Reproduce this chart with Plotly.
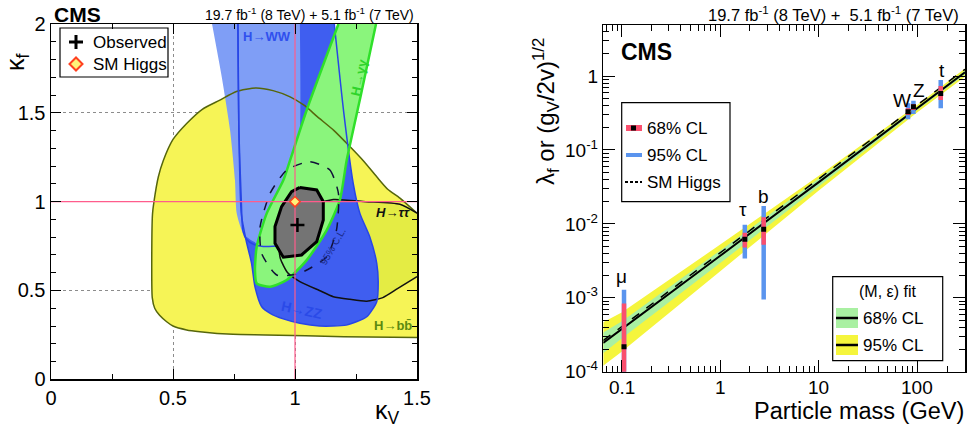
import math
import plotly.graph_objects as go

W, H = 969, 429
FONT = "Liberation Sans, Arial, sans-serif"

# ---------------- Left panel data (kappa_V, kappa_f) ----------------
bb_kv = [1.5, 1.2, 0.88, 0.746, 0.61, 0.556, 0.50, 0.474, 0.445, 0.425, 0.415, 0.413, 0.416, 0.422,
         0.44, 0.46, 0.50, 0.556, 0.62, 0.69, 0.76, 0.84, 0.91, 0.98, 1.04, 1.09, 1.16, 1.225,
         1.28, 1.335, 1.38, 1.43, 1.5]
bb_kf = [0.235, 0.24, 0.25, 0.253, 0.268, 0.278, 0.30, 0.324, 0.36, 0.40, 0.46, 0.70, 0.93, 1.0,
         1.14, 1.23, 1.35, 1.44, 1.52, 1.57, 1.62, 1.64, 1.625, 1.59, 1.54, 1.48, 1.40, 1.31,
         1.23, 1.14, 1.07, 1.02, 0.935]

tt_kv = [1.5, 1.43, 1.29, 1.157, 1.10, 1.02, 0.96, 0.935, 0.94, 0.97, 1.02, 1.10, 1.157, 1.225,
         1.294, 1.36, 1.42, 1.5]
tt_kf = [0.935, 0.985, 1.0, 1.012, 0.99, 0.90, 0.82, 0.75, 0.68, 0.60, 0.55, 0.50, 0.465, 0.45,
         0.44, 0.46, 0.51, 0.578]

zz_kv = [0.766, 0.77, 0.78, 0.80, 0.822, 0.836, 0.863, 0.90, 0.952, 1.02, 1.10, 1.21, 1.294,
         1.335, 1.341, 1.335, 1.307, 1.266, 1.239, 1.20, 1.161]
zz_kf = [2.0, 1.4, 0.93, 0.78, 0.653, 0.52, 0.41, 0.37, 0.34, 0.315, 0.30, 0.305, 0.352,
         0.437, 0.55, 0.653, 0.80, 0.934, 1.10, 1.5, 2.0]

ww_kv = [0.66, 0.70, 0.734, 0.754, 0.761, 0.788, 0.83, 0.884, 0.94, 0.97, 1.0, 1.02, 1.02]
ww_kf = [2.0, 1.7, 1.40, 1.12, 0.934, 0.82, 0.775, 0.746, 0.756, 0.85, 1.2, 1.4, 2.0]

ww_line_kv = [0.766, 0.77, 0.78, 0.786, 0.80, 0.83, 0.87, 0.95, 1.0]
ww_line_kf = [2.0, 1.4, 1.0, 0.84, 0.79, 0.76, 0.748, 0.756, 0.80]

gg_kv = [1.178, 1.048, 0.98, 0.952, 0.884, 0.843, 0.836, 0.843, 0.898, 0.966, 1.048, 1.13,
         1.184, 1.212, 1.27, 1.332]
gg_kf = [2.0, 1.516, 1.234, 1.12, 0.934, 0.746, 0.615, 0.54, 0.521, 0.559, 0.671, 0.84,
         1.01, 1.234, 1.6, 2.0]

obs68_kv = [1.02, 1.089, 1.116, 1.116, 1.089, 1.027, 0.952, 0.918, 0.918, 0.945, 0.986, 1.02]
obs68_kf = [1.08, 1.066, 1.0, 0.897, 0.775, 0.70, 0.687, 0.766, 0.86, 0.972, 1.056, 1.08]

obs95_kv = [1.06, 1.143, 1.178, 1.17, 1.13, 1.02, 0.925, 0.863, 0.857, 0.898, 0.966, 1.06]
obs95_kf = [1.225, 1.178, 1.047, 0.84, 0.69, 0.597, 0.587, 0.709, 0.859, 1.047, 1.178, 1.225]

best_fit = (1.01, 0.869)
sm_point = (1.0, 1.0)

# ---------------- Right panel data ----------------
fit_mass = [0.065, 0.1, 1.0, 10.0, 100.0, 304.0]
fit_central = [2.45e-4, 3.75e-4, 3.70e-3, 3.67e-2, 0.365, 1.12]
fit_lo68 = [1.78e-4, 2.82e-4, 2.95e-3, 3.24e-2, 0.347, 1.05]
fit_hi68 = [3.39e-4, 4.79e-4, 4.37e-3, 4.07e-2, 0.385, 1.19]
fit_lo95 = [1.20e-4, 1.86e-4, 2.29e-3, 2.82e-2, 0.324, 0.977]
fit_hi95 = [4.68e-4, 6.31e-4, 5.25e-3, 4.47e-2, 0.407, 1.26]

sm_mass = [0.065, 304.0]
sm_coupling = [2.64e-4, 1.235]

particles = ["μ", "τ", "b", "W", "Z", "t"]
p_mass = [0.1057, 1.777, 2.76, 80.4, 91.2, 172.5]
p_central = [2.18e-4, 6.2e-3, 8.45e-3, 0.329, 0.385, 0.58]
p_lo68 = [5e-5, 4.8e-3, 5.2e-3, 0.297, 0.347, 0.473]
p_hi68 = [8.4e-4, 7.6e-3, 1.23e-2, 0.366, 0.418, 0.732]
p_lo95 = [5e-5, 3.4e-3, 9.5e-4, 0.26, 0.306, 0.366]
p_hi95 = [1.28e-3, 9.7e-3, 1.75e-2, 0.427, 0.463, 0.883]
label_mass = [0.1, 1.7, 2.76, 70.5, 104.0, 179.0]
label_coupling = [1.93e-3, 1.54e-2, 2.34e-2, 0.473, 0.63, 1.2]

xticks_r = [0.1, 1, 10, 100]
xticklabels_r = ["0.1", "1", "10", "100"]
yticks_r = [1e-4, 1e-3, 1e-2, 1e-1, 1]
yticklabels_r = ["10<sup>-4</sup>", "10<sup>-3</sup>", "10<sup>-2</sup>", "10<sup>-1</sup>", "1"]

# ---------------- geometry helpers ----------------
L_PX = (51, 417, 24, 379.3)      # left plot frame: x0, x1, ytop, ybottom
R_PX = (603.3, 965, 25.3, 371.7)


def PX(px):
    return px / W


def PY(py):
    return 1 - py / H


def lkv(px):
    return (px - L_PX[0]) / (L_PX[1] - L_PX[0]) * 1.5


def lkf(py):
    return (L_PX[3] - py) / (L_PX[3] - L_PX[2]) * 2.0


fig = go.Figure()


def region(xs, ys, fill, line=None, width=1.5, dash=None, smooth=True):
    fig.add_trace(go.Scatter(
        x=xs, y=ys, mode="lines", fill="toself" if fill else None, fillcolor=fill,
        line=dict(color=line or "rgba(0,0,0,0)", width=width if line else 0, dash=dash,
                  shape="spline" if smooth else "linear", smoothing=0.6),
        hoverinfo="skip", xaxis="x", yaxis="y"))


def outline(xs, ys, color, width=1.5, dash=None, smooth=True):
    fig.add_trace(go.Scatter(
        x=xs, y=ys, mode="lines",
        line=dict(color=color, width=width, dash=dash, shape="spline" if smooth else "linear",
                  smoothing=0.6),
        hoverinfo="skip", xaxis="x", yaxis="y"))


# fills
region(bb_kv, bb_kf, "#f6f456")
region(tt_kv, tt_kf, "rgba(160,205,0,0.20)")
region(zz_kv, zz_kf, "#3f5ef0")
region(ww_kv, ww_kf, "#7f9ef6")
region(gg_kv, gg_kf, "#8af57c")
# outlines
outline(bb_kv, bb_kf, "#56660c", 1.5)
outline(tt_kv, tt_kf, "#111111", 1.5)
outline(zz_kv, zz_kf, "#2846e6", 1.5)
outline(ww_line_kv, ww_line_kf, "#2846e6", 1.5)
outline(gg_kv, gg_kf, "#2fe02a", 2.5)
region(obs68_kv, obs68_kf, "#747474", "#000000", 3, smooth=False)
outline(obs95_kv, obs95_kf, "#101038", 1.5, dash="dash")

# pink reference lines
fig.add_trace(go.Scatter(x=[sm_point[0], sm_point[0]], y=[0, 2], mode="lines",
                         line=dict(color="#ff5c8c", width=1.2), hoverinfo="skip",
                         xaxis="x", yaxis="y"))
fig.add_trace(go.Scatter(x=[0, 1.5], y=[sm_point[1], sm_point[1]], mode="lines",
                         line=dict(color="#ff5c8c", width=1.2), hoverinfo="skip",
                         xaxis="x", yaxis="y"))

# best fit + SM
fig.add_trace(go.Scatter(x=[best_fit[0]], y=[best_fit[1]], mode="markers",
                         marker=dict(symbol="cross-thin", size=10, line=dict(color="black", width=2.5)),
                         xaxis="x", yaxis="y", hoverinfo="skip"))
fig.add_trace(go.Scatter(x=[sm_point[0]], y=[sm_point[1]], mode="markers",
                         marker=dict(symbol="diamond", size=8, color="#fff27a",
                                     line=dict(color="#ff4020", width=1.5)),
                         xaxis="x", yaxis="y", hoverinfo="skip"))

# left legend markers
fig.add_trace(go.Scatter(x=[lkv(76)], y=[lkf(42)], mode="markers", cliponaxis=False,
                         marker=dict(symbol="cross-thin", size=10, line=dict(color="black", width=3)),
                         xaxis="x", yaxis="y", hoverinfo="skip"))
fig.add_trace(go.Scatter(x=[lkv(76)], y=[lkf(64)], mode="markers", cliponaxis=False,
                         marker=dict(symbol="diamond", size=10, color="#fff27a",
                                     line=dict(color="#ff4020", width=2)),
                         xaxis="x", yaxis="y", hoverinfo="skip"))

# ---------------- right panel ----------------
fig.add_trace(go.Scatter(x=fit_mass, y=fit_lo95, mode="lines", line=dict(width=0),
                         xaxis="x2", yaxis="y2", hoverinfo="skip"))
fig.add_trace(go.Scatter(x=fit_mass, y=fit_hi95, mode="lines", line=dict(width=0),
                         fill="tonexty", fillcolor="#f5f53c", xaxis="x2", yaxis="y2", hoverinfo="skip"))
fig.add_trace(go.Scatter(x=fit_mass, y=fit_lo68, mode="lines", line=dict(width=0),
                         xaxis="x2", yaxis="y2", hoverinfo="skip"))
fig.add_trace(go.Scatter(x=fit_mass, y=fit_hi68, mode="lines", line=dict(width=0),
                         fill="tonexty", fillcolor="#a9f0a2", xaxis="x2", yaxis="y2", hoverinfo="skip"))
fig.add_trace(go.Scatter(x=sm_mass, y=sm_coupling, mode="lines",
                         line=dict(color="black", width=1.5, dash="dash"),
                         xaxis="x2", yaxis="y2", hoverinfo="skip"))
fig.add_trace(go.Scatter(x=fit_mass, y=fit_central, mode="lines",
                         line=dict(color="black", width=2),
                         xaxis="x2", yaxis="y2", hoverinfo="skip"))


def segments(xs, lo, hi):
    sx, sy = [], []
    for x, a, b in zip(xs, lo, hi):
        sx += [x, x, None]
        sy += [a, b, None]
    return sx, sy


bx, by = segments(p_mass, p_lo95, p_hi95)
fig.add_trace(go.Scatter(x=bx, y=by, mode="lines", line=dict(color="#5a94ee", width=4.5),
                         xaxis="x2", yaxis="y2", hoverinfo="skip"))
rx, ry = segments(p_mass, p_lo68, p_hi68)
fig.add_trace(go.Scatter(x=rx, y=ry, mode="lines", line=dict(color="#fa4f6e", width=4.5),
                         xaxis="x2", yaxis="y2", hoverinfo="skip"))
fig.add_trace(go.Scatter(x=p_mass, y=p_central, mode="markers",
                         marker=dict(symbol="square", size=5, color="black"),
                         xaxis="x2", yaxis="y2", hoverinfo="skip"))

# ---------------- axes ----------------
tickfont_l = dict(size=20, family=FONT, color="black")
tickfont_r = dict(size=19, family=FONT, color="black")
common = dict(ticks="inside", tickcolor="black", tickwidth=1, showline=True, linecolor="black",
              linewidth=1.5, mirror="ticks", zeroline=False, automargin=False)

minor_x_r = [m * 10 ** e for e in range(-2, 3) for m in range(2, 10)]
minor_y_r = [m * 10 ** e for e in range(-5, 1) for m in range(2, 10)]

fig.update_layout(
    width=W, height=H, margin=dict(l=0, r=0, t=0, b=0, pad=0, autoexpand=False),
    showlegend=False,
    plot_bgcolor="white", paper_bgcolor="white",
    font=dict(family=FONT, color="black"),
    xaxis=dict(domain=[PX(L_PX[0]), PX(L_PX[1])], range=[0, 1.5], anchor="y",
               tickvals=[0, 0.5, 1, 1.5], ticktext=["0", "0.5", "1", "1.5"], ticklen=10,
               showgrid=True, gridcolor="#8c8c8c", griddash="dot", gridwidth=1,
               minor=dict(tickvals=[0.25, 0.75, 1.25], ticks="inside", ticklen=5, showgrid=False),
               tickfont=tickfont_l, **common),
    yaxis=dict(domain=[PY(L_PX[3]), PY(L_PX[2])], range=[0, 2], anchor="x",
               tickvals=[0, 0.5, 1, 1.5, 2], ticktext=["0", "0.5", "1", "1.5", "2"], ticklen=10,
               showgrid=True, gridcolor="#8c8c8c", griddash="dot", gridwidth=1,
               minor=dict(dtick=0.1, ticks="inside", ticklen=5, showgrid=False),
               tickfont=tickfont_l, **common),
    xaxis2=dict(domain=[PX(R_PX[0]), PX(R_PX[1])], type="log",
                range=[-1.186, 2.483], anchor="y2",
                tickvals=xticks_r, showticklabels=False, ticklen=12,
                showgrid=False,
                minor=dict(tickvals=minor_x_r, ticks="inside", ticklen=6, showgrid=False),
                **common),
    yaxis2=dict(domain=[PY(R_PX[3]), PY(R_PX[2])], type="log",
                range=[-4, 0.686], anchor="x2",
                tickvals=yticks_r, ticktext=yticklabels_r, ticklen=12,
                showgrid=False,
                minor=dict(tickvals=minor_y_r, ticks="inside", ticklen=6, showgrid=False),
                tickfont=tickfont_r, **common),
)

ann = []


def ptext(text, px, py, size, xanchor="left", bold=False, color="black", angle=0):
    ann.append(dict(text=("<b>%s</b>" % text) if bold else text, x=PX(px), y=PY(py),
                    xref="paper", yref="paper", xanchor=xanchor, yanchor="middle",
                    showarrow=False, textangle=angle,
                    font=dict(size=size, family=FONT, color=color)))


def ltext(text, x, y, size, color, angle=0, bold=False, italic=False):
    t = text
    if bold:
        t = "<b>%s</b>" % t
    if italic:
        t = "<i>%s</i>" % t
    ann.append(dict(text=t, x=x, y=y, xref="x", yref="y", showarrow=False, textangle=angle,
                    font=dict(size=size, family=FONT, color=color)))


# left panel texts
ptext("CMS", 52, 14, 21, bold=True)
ptext("19.7 fb<sup>-1</sup> (8 TeV) + 5.1 fb<sup>-1</sup> (7 TeV)", 416, 14, 14, xanchor="right")
ptext("κ<sub>f</sub>", 17, 62, 25, xanchor="center", angle=-90)
ptext("κ<sub>V</sub>", 387, 412, 25, xanchor="center")
ptext("Observed", 91, 42, 17)
ptext("SM Higgs", 91, 64, 17)
ltext("H→WW", 0.884, 1.93, 13, "#3050ee", bold=True)
ltext("H→γγ", 1.262, 1.70, 13, "#2ed42a", angle=-78, bold=True)
ltext("H→ττ", 1.40, 0.94, 13, "#111111", italic=True, bold=True)
ltext("H→bb̄", 1.40, 0.305, 13, "#5c8a10", bold=True)
ltext("H→ZZ", 1.03, 0.39, 14, "#2a4ae8", angle=12, bold=True)
ltext("95% C.L.", 1.156, 0.745, 10, "#1a2a8a", angle=-60)

# right panel texts
ptext("19.7 fb<sup>-1</sup> (8 TeV) +  5.1 fb<sup>-1</sup> (7 TeV)", 961, 14, 16.5, xanchor="right")
ptext("CMS", 619, 52, 23, bold=True)
ptext("λ<sub>f</sub> or (g<sub>V</sub>/2v)<sup>1/2</sup>", 546, 112, 24, xanchor="center", angle=-90)
ptext("Particle mass (GeV)", 966, 411, 23.5, xanchor="right")
for v, t in zip(xticks_r, xticklabels_r):
    ann.append(dict(text=t, x=math.log10(v), y=PY(387), xref="x2", yref="paper",
                    yanchor="middle", showarrow=False,
                    font=dict(size=19, family=FONT, color="black")))
for name, m, c in zip(particles, label_mass, label_coupling):
    ann.append(dict(text=name, x=math.log10(m), y=math.log10(c), xref="x2", yref="y2",
                    showarrow=False, font=dict(size=19, family=FONT, color="black")))

# right legend texts
ptext("68% CL", 645, 128, 17)
ptext("95% CL", 645, 155, 17)
ptext("SM Higgs", 645, 182, 17)
ptext("(M, ε) fit", 887, 291, 16, xanchor="center")
ptext("68% CL", 861, 318, 17)
ptext("95% CL", 861, 345, 17)

fig.update_layout(annotations=ann)

shapes = []


def prect(x0, y0, x1, y1, fill="rgba(0,0,0,0)", line="black", lw=1, layer="above"):
    shapes.append(dict(type="rect", xref="paper", yref="paper", x0=PX(x0), x1=PX(x1),
                       y0=PY(y0), y1=PY(y1), fillcolor=fill, layer=layer,
                       line=dict(color=line, width=lw)))


def pline(x0, y0, x1, y1, color, lw, dash=None):
    shapes.append(dict(type="line", xref="paper", yref="paper", x0=PX(x0), x1=PX(x1),
                       y0=PY(y0), y1=PY(y1), line=dict(color=color, width=lw, dash=dash)))


# left legend box (below the marker traces)
prect(60, 28, 168, 77, fill="white", lw=1.2, layer="below")
# right legend 1
prect(621.7, 102.7, 730, 201.7, fill="white", lw=1.2)
pline(626, 128, 642, 128, "#fa4f6e", 6)
prect(631, 125.5, 636, 130.5, fill="black", line="black", lw=0)
pline(626, 155, 642, 155, "#5a94ee", 4)
pline(625, 182, 642, 182, "black", 2, dash="3px,2px")
# right legend 2
prect(832.7, 276.7, 942.7, 360.7, fill="white", lw=1.2)
prect(836, 308, 858, 328, fill="#a9f0a2", line="#a9f0a2", lw=0)
pline(836, 318, 858, 318, "black", 2.5)
prect(836, 335, 858, 355, fill="#f5f53c", line="#f5f53c", lw=0)
pline(836, 345, 858, 345, "black", 2.5)

fig.update_layout(shapes=shapes)

fig.write_html(
    "out.html",
    config={"displayModeBar": False, "staticPlot": True},
    post_script="document.body.style.margin='0';document.body.style.overflow='hidden';",
)
